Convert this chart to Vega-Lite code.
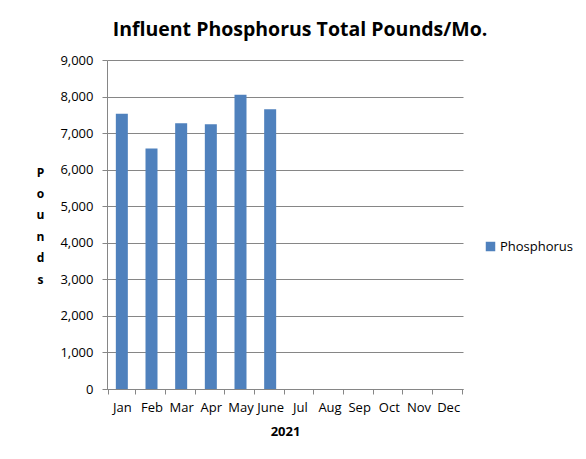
{
  "$schema": "https://vega.github.io/schema/vega-lite/v6.json",
  "width": 356,
  "height": 329,
  "autosize": {"type": "none"},
  "padding": {"left": 107, "top": 60, "right": 123, "bottom": 70},
  "background": "white",
  "config": {
    "font": "Open Sans",
    "view": {"stroke": null},
    "axis": {"labelColor": "black", "titleColor": "black", "domainColor": "#868686", "tickColor": "#868686", "gridColor": "#868686", "labelFontSize": 13, "tickSize": 5}
  },
  "title": {
    "text": "Influent Phosphorus Total Pounds/Mo.",
    "fontSize": 19.5,
    "fontWeight": "bold",
    "color": "black",
    "anchor": "middle",
    "dx": 15,
    "offset": 14
  },
  "data": {
    "values": [
      {"month": "Jan", "pounds": 7530, "series": "Phosphorus"},
      {"month": "Feb", "pounds": 6580, "series": "Phosphorus"},
      {"month": "Mar", "pounds": 7270, "series": "Phosphorus"},
      {"month": "Apr", "pounds": 7240, "series": "Phosphorus"},
      {"month": "May", "pounds": 8050, "series": "Phosphorus"},
      {"month": "June", "pounds": 7650, "series": "Phosphorus"}
    ]
  },
  "mark": {"type": "bar", "width": 12},
  "encoding": {
    "x": {
      "field": "month",
      "type": "nominal",
      "sort": null,
      "scale": {"domain": ["Jan", "Feb", "Mar", "Apr", "May", "June", "Jul", "Aug", "Sep", "Oct", "Nov", "Dec"]},
      "axis": {
        "title": "2021",
        "titleFontSize": 13,
        "titleFontWeight": "bold",
        "titlePadding": 11,
        "labelAngle": 0,
        "labelPadding": 7,
        "tickBand": "extent",
        "grid": false
      }
    },
    "y": {
      "field": "pounds",
      "type": "quantitative",
      "scale": {"domain": [0, 9000], "nice": false},
      "axis": {
        "values": [0, 1000, 2000, 3000, 4000, 5000, 6000, 7000, 8000, 9000],
        "format": ",.0f",
        "labelPadding": 9,
        "title": ["P", "o", "u", "n", "d", "s"],
        "titleAngle": 0,
        "titleFontSize": 12,
        "titleFontWeight": "bold",
        "titleLineHeight": 21.4,
        "titleAlign": "center",
        "titleBaseline": "alphabetic",
        "titleX": -67,
        "titleY": 116
      }
    },
    "color": {
      "field": "series",
      "type": "nominal",
      "scale": {"range": ["#4F81BD"]},
      "legend": {
        "title": null,
        "orient": "none",
        "legendX": 377,
        "legendY": 180,
        "symbolType": "square",
        "symbolSize": 90,
        "symbolOffset": 0,
        "labelOffset": 3,
        "labelFontSize": 13,
        "labelColor": "black"
      }
    }
  }
}
